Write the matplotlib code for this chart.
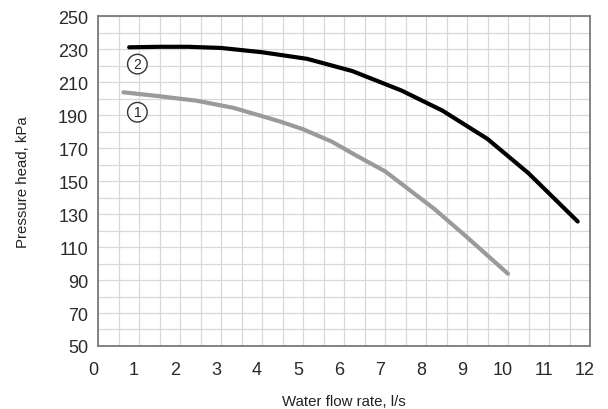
"""Pump curves: pressure head against water flow rate."""

import matplotlib

matplotlib.use("Agg")

import matplotlib.pyplot as plt
import numpy as np
from matplotlib.transforms import ScaledTranslation

# curve 2 (black)
flow_2 = [0.76, 1.5, 2.2, 3.0, 4.0, 5.1, 6.2, 7.4, 8.4, 9.5, 10.5, 11.7]
head_2 = [231.2, 231.5, 231.5, 230.8, 228.2, 224.2, 216.8, 205.0, 192.8, 175.6, 154.8, 125.5]

# curve 1 (grey)
flow_1 = [0.62, 1.5, 2.4, 3.3, 4.4, 5.0, 5.7, 6.3, 7.0, 8.2, 9.0, 10.0]
head_1 = [203.9, 201.5, 198.8, 194.5, 186.5, 181.5, 174.0, 165.5, 156.0, 133.2, 116.0, 93.8]

x_ticks = list(range(0, 13))
y_ticks = list(range(50, 251, 20))

plt.rcParams["font.family"] = ["Liberation Sans", "DejaVu Sans"]

fig = plt.figure(figsize=(6.08, 4.10), dpi=100)
ax = fig.add_axes([0.1612, 0.1537, 0.8092, 0.8041])

ax.plot(flow_1, head_1, color="#9a9a9a", linewidth=3.0, solid_capstyle="round", zorder=3)
ax.plot(flow_2, head_2, color="#000000", linewidth=3.0, solid_capstyle="round", zorder=3)

circle = dict(boxstyle="circle,pad=0.2", facecolor="white", edgecolor="#333333", linewidth=1.0)
ax.text(0.96, 221, "2", fontsize=10, ha="center", va="center", color="#222222", bbox=circle, zorder=4)
ax.text(0.96, 191.8, "1", fontsize=10, ha="center", va="center", color="#222222", bbox=circle, zorder=4)

ax.set_xlim(0, 12)
ax.set_ylim(50, 250)
ax.set_xticks(x_ticks)
ax.set_yticks(y_ticks)
ax.set_xticks(np.arange(0, 12.01, 0.5), minor=True)
ax.set_yticks(np.arange(50, 250.1, 10), minor=True)
ax.grid(which="both", color="#d8d8d8", linewidth=0.9, zorder=0)
ax.set_axisbelow(True)

ax.tick_params(which="both", length=0)
ax.tick_params(axis="y", pad=7, labelsize=13, labelcolor="#2a2a2a")
ax.tick_params(axis="x", pad=11, labelsize=13, labelcolor="#2a2a2a")
shift = ScaledTranslation(-5 / 100, 0, fig.dpi_scale_trans)
for label in ax.get_xticklabels():
    label.set_transform(label.get_transform() + shift)

for spine in ax.spines.values():
    spine.set_color("#7a7a7a")
    spine.set_linewidth(1.3)

ax.set_xlabel("Water flow rate, l/s", fontsize=10.8, color="#222222", labelpad=11)
ax.set_ylabel("Pressure head, kPa", fontsize=10.8, color="#222222", labelpad=20)

fig.savefig("out.png", dpi=100)
